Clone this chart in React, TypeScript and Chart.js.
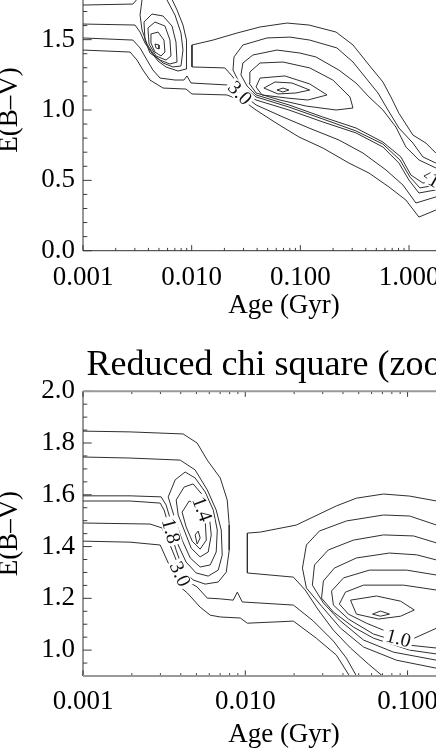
import { useEffect, useRef } from 'react';
import { Chart, registerables } from 'chart.js';

Chart.register(...registerables);

type Pt = [number, number];
type Label = { text: string; x: number; y: number; angle: number };

const FONT = '"Liberation Serif", "Times New Roman", serif';
const CANVAS_W = 560;

// ---------------- top panel (full range) ----------------
const topXRange = [0.001, 5];
const topYRange = [0, 2];
const topXTicks = [0.001, 0.01, 0.1, 1];
const topYTicks = [0, 0.5, 1.0, 1.5, 2.0];
const topYMinorStep = 0.1;

const topLeftEdge1: Pt[] = [[0.001, 1.746], [0.00288, 1.753], [0.00327, 1.803], [0.00356, 1.888]];
const topLeftEdge2: Pt[] = [[0.001, 1.611], [0.00301, 1.604], [0.00335, 1.554], [0.00372, 1.476], [0.00431, 1.405], [0.0049, 1.348], [0.0058, 1.306], [0.00748, 1.277], [0.00887, 1.291], [0.00905, 1.391], [0.00887, 1.497], [0.00832, 1.604], [0.00733, 1.711], [0.00631, 1.817], [0.0058, 1.924]];
const topLeftEdge3: Pt[] = [[0.001, 1.512], [0.00288, 1.497], [0.00335, 1.441], [0.00388, 1.355], [0.0044, 1.284], [0.00511, 1.227], [0.00702, 1.213], [0.00849, 1.213], [0.00905, 1.242], [0.00986, 1.192], [0.0211, 1.178], [0.0278, 1.128], [0.0391, 1.036], [0.0692, 0.95], [0.12, 0.872], [0.226, 0.787], [0.377, 0.694], [0.613, 0.574], [0.879, 0.467], [1.157, 0.339], [1.767, 0.382], [2.38, 0.41]];
const topLeftEdge4: Pt[] = [[0.001, 1.426], [0.00271, 1.412], [0.00314, 1.355], [0.00356, 1.284], [0.00413, 1.213], [0.00545, 1.156], [0.00887, 1.149], [0.01006, 1.114], [0.0211, 1.107], [0.0309, 1.057], [0.0391, 1.0], [0.0597, 0.908], [0.0971, 0.808], [0.161, 0.73], [0.28, 0.623], [0.428, 0.552], [0.653, 0.453], [0.936, 0.36], [1.233, 0.239], [1.767, 0.289], [2.38, 0.325]];

const topBand1: Pt[] = [[2.38, 0.609], [1.767, 0.694], [1.43, 0.765], [1.086, 0.822], [0.807, 0.977], [0.681, 1.093], [0.575, 1.199], [0.428, 1.32], [0.305, 1.462], [0.213, 1.554], [0.12, 1.604], [0.0753, 1.618], [0.0425, 1.59], [0.0261, 1.547], [0.0157, 1.497], [0.01006, 1.462], [0.01006, 1.306], [0.0202, 1.299], [0.0235, 1.242], [0.0309, 1.128], [0.0391, 1.071], [0.0785, 1.0], [0.161, 0.915], [0.325, 0.837], [0.575, 0.737], [0.807, 0.623], [0.998, 0.502], [1.233, 0.41], [1.767, 0.432], [2.38, 0.446]];
const topBand2: Pt[] = [[2.38, 0.574], [1.767, 0.623], [1.343, 0.666], [1.086, 0.765], [0.807, 0.872], [0.64, 1.0], [0.518, 1.121], [0.401, 1.227], [0.305, 1.341], [0.217, 1.441], [0.122, 1.497], [0.0802, 1.518], [0.0493, 1.512], [0.0296, 1.462], [0.0245, 1.377], [0.024, 1.284], [0.0278, 1.185], [0.0391, 1.093], [0.0785, 1.021], [0.161, 0.936], [0.325, 0.851], [0.575, 0.758], [0.824, 0.645], [1.019, 0.524], [1.259, 0.446], [1.767, 0.467], [2.38, 0.481]];
const topBand3: Pt[] = [[2.38, 0.538], [1.767, 0.588], [1.233, 0.645], [0.936, 0.737], [0.757, 0.879], [0.575, 1.0], [0.428, 1.093], [0.325, 1.192], [0.226, 1.284], [0.139, 1.377], [0.0991, 1.405], [0.0609, 1.426], [0.0366, 1.391], [0.0296, 1.334], [0.0284, 1.249], [0.0323, 1.171], [0.0391, 1.107], [0.0785, 1.036], [0.161, 0.95], [0.325, 0.872], [0.575, 0.772], [0.842, 0.666], [1.04, 0.538], [1.343, 0.481], [1.767, 0.488], [2.38, 0.502]];
const topCore1: Pt[] = [[0.0337, 1.192], [0.0343, 1.27], [0.0425, 1.334], [0.0692, 1.341], [0.122, 1.299], [0.199, 1.213], [0.286, 1.093], [0.305, 1.014], [0.213, 1.0], [0.113, 1.028], [0.0649, 1.071], [0.0391, 1.121], [0.0337, 1.192]];
const topCore2: Pt[] = [[0.0391, 1.164], [0.0425, 1.227], [0.0721, 1.242], [0.122, 1.185], [0.176, 1.107], [0.117, 1.071], [0.0753, 1.085], [0.0444, 1.107], [0.0391, 1.164]];
const topCore3: Pt[] = [[0.0462, 1.156], [0.0584, 1.199], [0.0837, 1.192], [0.122, 1.142], [0.0911, 1.121], [0.0622, 1.114], [0.0462, 1.156]];
const topCore4: Pt[] = [[0.0609, 1.142], [0.0692, 1.156], [0.0785, 1.142], [0.0692, 1.128], [0.0609, 1.142]];
const topSecondMin: Pt[] = [[1.371, 0.531], [1.626, 0.559], [1.923, 0.552], [1.767, 0.516], [1.492, 0.51], [1.371, 0.531]];

const topBlob1: Pt[] = [[0.00388, 1.924], [0.00349, 1.782], [0.00335, 1.675], [0.00349, 1.569], [0.00388, 1.469], [0.0045, 1.391], [0.00545, 1.334], [0.00673, 1.306], [0.00797, 1.313], [0.00832, 1.426], [0.00797, 1.547], [0.00702, 1.675], [0.00593, 1.782], [0.00511, 1.924]];
const topBlob2: Pt[] = [[0.00364, 1.625], [0.00431, 1.682], [0.00545, 1.668], [0.00659, 1.597], [0.00717, 1.483], [0.00733, 1.341], [0.00631, 1.327], [0.00511, 1.355], [0.00413, 1.405], [0.00372, 1.497], [0.00364, 1.625]];
const topBlob3: Pt[] = [[0.00396, 1.583], [0.00459, 1.625], [0.00568, 1.597], [0.00631, 1.497], [0.00645, 1.384], [0.0058, 1.355], [0.0047, 1.384], [0.00405, 1.469], [0.00396, 1.583]];
const topBlob4: Pt[] = [[0.00422, 1.54], [0.0049, 1.554], [0.00556, 1.497], [0.00568, 1.412], [0.00522, 1.384], [0.00459, 1.412], [0.00422, 1.476], [0.00422, 1.54]];
const topBlob5: Pt[] = [[0.00459, 1.469], [0.005, 1.462], [0.005, 1.434], [0.0047, 1.441], [0.00459, 1.469]];

const topContours: Pt[][] = [
  topLeftEdge1, topLeftEdge2, topLeftEdge3, topLeftEdge4,
  topBand1, topBand2, topBand3, topCore1, topCore2, topCore3, topCore4, topSecondMin,
  topBlob1, topBlob2, topBlob3, topBlob4, topBlob5,
];
const topLabels: Label[] = [
  { text: '3.0', x: 0.0278, y: 1.121, angle: 45 },
  { text: '1.0', x: 1.96, y: 0.474, angle: 30 },
];

// ---------------- bottom panel (zoom) ----------------
const botXRange = [0.001, 0.3];
const botYRange = [0.9, 2.0];
const botXTicks = [0.001, 0.01, 0.1];
const botYTicks = [1.0, 1.2, 1.4, 1.6, 1.8, 2.0];
const botYMinorStep = 0.05;

const botLeft1: Pt[] = [[0.001, 1.846], [0.00195, 1.843], [0.00414, 1.835], [0.00505, 1.8], [0.00583, 1.734], [0.00701, 1.665], [0.00774, 1.58], [0.00796, 1.483], [0.00796, 1.386], [0.00763, 1.301], [0.00681, 1.263], [0.00566, 1.255], [0.00477, 1.271], [0.00414, 1.309], [0.00375, 1.386], [0.00344, 1.464], [0.00316, 1.541], [0.00299, 1.568], [0.00195, 1.576], [0.001, 1.576]];
const botLeft2: Pt[] = [[0.001, 1.746], [0.00195, 1.742], [0.00397, 1.734], [0.00491, 1.696], [0.00583, 1.619], [0.00662, 1.541], [0.00711, 1.464], [0.00721, 1.367], [0.00681, 1.309], [0.00591, 1.286], [0.00498, 1.298], [0.00432, 1.34], [0.00386, 1.406], [0.00354, 1.483], [0.00325, 1.561], [0.00303, 1.592], [0.00195, 1.596], [0.001, 1.596]];
const botLeft3: Pt[] = [[0.001, 1.491], [0.00259, 1.487], [0.00307, 1.472], [0.00344, 1.406], [0.00386, 1.329], [0.00426, 1.271], [0.00505, 1.244], [0.00583, 1.201], [0.00701, 1.198], [0.00843, 1.193], [0.00893, 1.224], [0.00958, 1.186], [0.0198, 1.174], [0.0263, 1.112], [0.0349, 1.035], [0.042, 0.969], [0.0484, 0.9]];
const botLeft4: Pt[] = [[0.001, 1.421], [0.00195, 1.417], [0.00299, 1.406], [0.00344, 1.321], [0.00397, 1.244], [0.00439, 1.221], [0.00527, 1.166], [0.00608, 1.135], [0.00701, 1.128], [0.00931, 1.124], [0.0103, 1.104], [0.0198, 1.112], [0.0274, 1.046], [0.0364, 0.981], [0.0439, 0.9]];

const botBlob1: Pt[] = [[0.00335, 1.592], [0.0037, 1.658], [0.00426, 1.688], [0.00491, 1.665], [0.00566, 1.611], [0.00635, 1.541], [0.00672, 1.464], [0.00662, 1.379], [0.00608, 1.329], [0.00527, 1.321], [0.00458, 1.356], [0.00408, 1.425], [0.0037, 1.503], [0.00335, 1.592]];
const botBlob2: Pt[] = [[0.00375, 1.58], [0.0042, 1.63], [0.00477, 1.642], [0.00551, 1.596], [0.00599, 1.522], [0.00617, 1.445], [0.00591, 1.379], [0.00527, 1.36], [0.00464, 1.394], [0.0042, 1.464], [0.00386, 1.522], [0.00375, 1.58]];
const botBlob3: Pt[] = [[0.00408, 1.533], [0.00451, 1.576], [0.00505, 1.561], [0.00566, 1.503], [0.00575, 1.425], [0.00527, 1.39], [0.00471, 1.421], [0.00432, 1.476], [0.00408, 1.533]];
const botBlob4: Pt[] = [[0.00491, 1.445], [0.00513, 1.46], [0.00527, 1.433], [0.00505, 1.41], [0.00491, 1.445]];

const botRight1: Pt[] = [[0.245, 1.541], [0.151, 1.576], [0.103, 1.595], [0.0711, 1.603], [0.0484, 1.587], [0.0364, 1.557], [0.0206, 1.483], [0.0124, 1.456], [0.0103, 1.452], [0.0103, 1.298], [0.0198, 1.282], [0.0234, 1.232], [0.0282, 1.155], [0.0349, 1.077], [0.0445, 1.008], [0.0574, 0.946], [0.0701, 0.9]];
const botRight2: Pt[] = [[0.245, 1.445], [0.151, 1.483], [0.103, 1.518], [0.0711, 1.522], [0.042, 1.499], [0.0286, 1.46], [0.0238, 1.406], [0.0225, 1.317], [0.0238, 1.24], [0.0295, 1.17], [0.0386, 1.085], [0.0535, 1.012], [0.0855, 0.961], [0.151, 0.93], [0.245, 0.915]];
const botRight3: Pt[] = [[0.245, 1.379], [0.151, 1.414], [0.109, 1.441], [0.0711, 1.445], [0.0464, 1.425], [0.0325, 1.387], [0.0267, 1.329], [0.0259, 1.251], [0.0303, 1.182], [0.038, 1.116], [0.0535, 1.039], [0.082, 0.992], [0.151, 0.961], [0.245, 0.946]];
const botRight4: Pt[] = [[0.245, 1.321], [0.151, 1.348], [0.114, 1.368], [0.0774, 1.375], [0.0484, 1.356], [0.0354, 1.317], [0.0303, 1.267], [0.0295, 1.201], [0.0349, 1.147], [0.0464, 1.089], [0.0617, 1.046], [0.103, 1.0], [0.151, 0.985], [0.245, 0.973]];
const botRight5: Pt[] = [[0.245, 1.271], [0.151, 1.29], [0.0986, 1.309], [0.0582, 1.309], [0.0403, 1.279], [0.034, 1.228], [0.0349, 1.174], [0.0432, 1.12], [0.0617, 1.062], [0.103, 1.019], [0.151, 1.008], [0.245, 0.996]];
const botRight6a: Pt[] = [[0.245, 1.224], [0.151, 1.232], [0.0945, 1.251], [0.0535, 1.251], [0.0414, 1.224], [0.038, 1.178], [0.0432, 1.139], [0.0558, 1.104], [0.0711, 1.077]];
const botRight6b: Pt[] = [[0.11, 1.046], [0.151, 1.085], [0.245, 1.124]];
const botRight7: Pt[] = [[0.0445, 1.193], [0.0644, 1.209], [0.0906, 1.189], [0.11, 1.155], [0.0906, 1.131], [0.0662, 1.12], [0.0484, 1.139], [0.0445, 1.193]];
const botRightCore: Pt[] = [[0.0608, 1.139], [0.0681, 1.151], [0.0774, 1.139], [0.0681, 1.131], [0.0608, 1.139]];

const botContours: Pt[][] = [
  botLeft1, botLeft2, botLeft3, botLeft4,
  botBlob1, botBlob2, botBlob3, botBlob4,
  botRight1, botRight2, botRight3, botRight4, botRight5, botRight6a, botRight6b, botRight7, botRightCore,
];
const botLabels: Label[] = [
  { text: '1.4', x: 0.00543, y: 1.545, angle: 70 },
  { text: '1.8', x: 0.00349, y: 1.46, angle: 75 },
  { text: '3.0', x: 0.00397, y: 1.294, angle: 65 },
  { text: '1.0', x: 0.088, y: 1.046, angle: 15 },
];

interface PanelProps {
  contours: Pt[][];
  labels: Label[];
  xRange: number[];
  yRange: number[];
  xTicks: number[];
  yTicks: number[];
  yMinorStep: number;
  title?: string;
  top: number;
  height: number;
  padTop: number;
  xAxisHeight: number;
  xTickPad: number;
  xTitlePadBottom: number;
  hEdgeColor: string;
  hEdgeWidth: number;
}

function logTicks(min: number, max: number) {
  const out: { v: number; major: boolean }[] = [];
  const e0 = Math.floor(Math.log10(min) + 1e-9);
  const e1 = Math.ceil(Math.log10(max) - 1e-9);
  for (let e = e0; e <= e1; e++) {
    for (let k = 1; k <= 9; k++) {
      const v = Number((k * Math.pow(10, e)).toPrecision(6));
      if (v >= min * 0.9999 && v <= max * 1.0001) out.push({ v, major: k === 1 });
    }
  }
  return out;
}

function Panel(p: PanelProps) {
  const ref = useRef<HTMLCanvasElement>(null);
  useEffect(() => {
    const canvas = ref.current;
    if (!canvas) return;
    const datasets = p.contours.map((c) => ({
      data: c.map(([x, y]) => ({ x, y })),
      showLine: true,
      borderColor: '#2f2f2f',
      borderWidth: 1,
      pointRadius: 0,
      pointHoverRadius: 0,
      tension: 0,
      fill: false,
    }));

    const labelPlugin = {
      id: 'contourLabels',
      afterDatasetsDraw(chart: any) {
        const { ctx, scales } = chart;
        ctx.save();
        ctx.font = `20px ${FONT}`;
        ctx.textAlign = 'center';
        ctx.textBaseline = 'middle';
        for (const l of p.labels) {
          const px = scales.x.getPixelForValue(l.x);
          const py = scales.y.getPixelForValue(l.y);
          ctx.save();
          ctx.translate(px, py);
          ctx.rotate((l.angle * Math.PI) / 180);
          const w = ctx.measureText(l.text).width;
          ctx.fillStyle = '#fff';
          ctx.fillRect(-w / 2 - 2, -8, w + 4, 16);
          ctx.fillStyle = '#111';
          ctx.fillText(l.text, 0, 1);
          ctx.restore();
        }
        ctx.restore();
      },
    };

    const framePlugin = {
      id: 'idlFrame',
      afterDatasetsDraw(chart: any) {
        const { ctx, chartArea, scales } = chart;
        const { left, right, top, bottom } = chartArea;
        const xs = scales.x;
        const ys = scales.y;
        ctx.save();
        ctx.strokeStyle = '#3a3a3a';
        ctx.lineWidth = 1;
        ctx.beginPath();
        for (const t of logTicks(p.xRange[0], p.xRange[1])) {
          const px = xs.getPixelForValue(t.v);
          const len = t.major ? 5.6 : 2.8;
          ctx.moveTo(px, bottom);
          ctx.lineTo(px, bottom - len);
          ctx.moveTo(px, top);
          ctx.lineTo(px, top + len);
        }
        const n = Math.round((p.yRange[1] - p.yRange[0]) / p.yMinorStep);
        for (let i = 0; i <= n; i++) {
          const v = p.yRange[0] + i * p.yMinorStep;
          const major = p.yTicks.some((m) => Math.abs(m - v) < 1e-6);
          const py = ys.getPixelForValue(v);
          const len = major ? 8.7 : 4.3;
          ctx.moveTo(left, py);
          ctx.lineTo(left + len, py);
          ctx.moveTo(right, py);
          ctx.lineTo(right - len, py);
        }
        ctx.stroke();
        // vertical edges
        ctx.strokeStyle = '#333';
        ctx.lineWidth = 1;
        ctx.beginPath();
        ctx.moveTo(left, top);
        ctx.lineTo(left, bottom);
        ctx.moveTo(right, top);
        ctx.lineTo(right, bottom);
        ctx.stroke();
        // horizontal edges
        ctx.strokeStyle = p.hEdgeColor;
        ctx.lineWidth = p.hEdgeWidth;
        ctx.beginPath();
        ctx.moveTo(left, top);
        ctx.lineTo(right, top);
        ctx.moveTo(left, bottom);
        ctx.lineTo(right, bottom);
        ctx.stroke();
        ctx.restore();
      },
    };

    const tickFont = { family: FONT, size: 27, lineHeight: 1 };
    const chart = new Chart(canvas, {
      type: 'scatter',
      data: { datasets: datasets as any },
      options: {
        responsive: false,
        animation: false,
        devicePixelRatio: 1,
        events: [],
        layout: { padding: { left: 0, right: CANVAS_W - 485, top: p.padTop, bottom: 0 } },
        plugins: {
          legend: { display: false },
          tooltip: { enabled: false },
          title: {
            display: !!p.title,
            text: p.title || '',
            color: '#000',
            font: { family: FONT, size: 36, weight: 'normal', lineHeight: 1 } as any,
            padding: { top: 8, bottom: 7.25 },
            fullSize: false,
          },
        },
        scales: {
          x: {
            type: 'logarithmic',
            position: 'bottom',
            min: p.xRange[0],
            max: p.xRange[1],
            grid: { display: false, drawTicks: false },
            border: { display: false },
            afterBuildTicks: (s: any) => {
              s.ticks = p.xTicks.map((v) => ({ value: v }));
            },
            afterFit: (s: any) => {
              s.height = p.xAxisHeight;
            },
            ticks: {
              autoSkip: false,
              maxRotation: 0,
              minRotation: 0,
              padding: p.xTickPad,
              color: '#000',
              font: tickFont,
              callback: (v: any) => Number(v).toFixed(3),
            },
            title: {
              display: true,
              text: 'Age (Gyr)',
              color: '#000',
              font: { family: FONT, size: 27, lineHeight: 1 },
              padding: { top: 0, bottom: p.xTitlePadBottom },
            },
          },
          y: {
            type: 'linear',
            position: 'left',
            min: p.yRange[0],
            max: p.yRange[1],
            grid: { display: false, drawTicks: false },
            border: { display: false },
            afterBuildTicks: (s: any) => {
              s.ticks = p.yTicks.map((v) => ({ value: v }));
            },
            afterFit: (s: any) => {
              s.width = 83;
            },
            ticks: {
              padding: 8,
              color: '#000',
              font: tickFont,
              callback: (v: any) => Number(v).toFixed(1),
            },
            title: {
              display: true,
              text: 'E(B–V)',
              color: '#000',
              font: { family: FONT, size: 27, lineHeight: 0.75 },
              padding: 0,
            },
          },
        },
      } as any,
      plugins: [labelPlugin, framePlugin],
    });
    return () => chart.destroy();
  }, []);
  return (
    <canvas
      ref={ref}
      width={CANVAS_W}
      height={p.height}
      style={{ position: 'absolute', left: 0, top: p.top, width: CANVAS_W, height: p.height }}
    />
  );
}

export default function App() {
  return (
    <div
      style={{
        position: 'fixed',
        left: 0,
        top: 0,
        width: 436,
        height: 749,
        overflow: 'hidden',
        background: '#fff',
      }}
    >
      <Panel
        contours={topContours}
        labels={topLabels}
        xRange={topXRange}
        yRange={topYRange}
        xTicks={topXTicks}
        yTicks={topYTicks}
        yMinorStep={topYMinorStep}
        top={-61}
        height={394}
        padTop={30.3}
        xAxisHeight={82.3}
        xTickPad={13.8}
        xTitlePadBottom={13.5}
        hEdgeColor="#333"
        hEdgeWidth={1}
      />
      <Panel
        contours={botContours}
        labels={botLabels}
        xRange={botXRange}
        yRange={botYRange}
        xTicks={botXTicks}
        yTicks={botYTicks}
        yMinorStep={botYMinorStep}
        title="Reduced chi square (zoom)"
        top={340}
        height={409}
        padTop={0}
        xAxisHeight={73}
        xTickPad={12.5}
        xTitlePadBottom={1}
        hEdgeColor="#999"
        hEdgeWidth={2}
      />
    </div>
  );
}
